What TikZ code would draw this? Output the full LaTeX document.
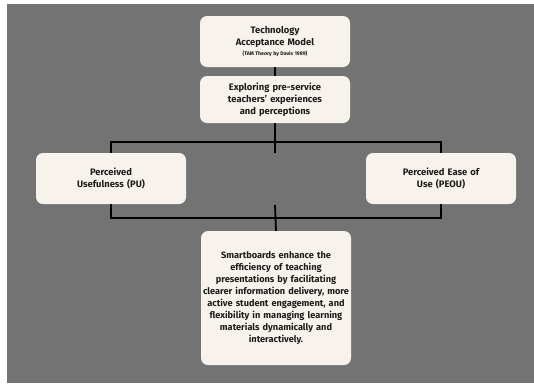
\documentclass[tikz,border=0pt]{standalone}
\usepackage{fontspec}
\setmainfont{Fira Sans}
\definecolor{slate}{HTML}{737373}
\definecolor{cream}{HTML}{F7F3EC}
\definecolor{ink}{HTML}{1C1C1C}
\usetikzlibrary{calc}

\begin{document}
\begin{tikzpicture}[x=1pt,y=-1pt,
	card/.style={fill=cream, rounded corners=7pt, align=center, text=ink,
		font=\bfseries\fontsize{9.4}{11.9}\selectfont, inner sep=1pt,
		minimum width=150pt, text width=148pt},
	wire/.style={draw=black, line width=1.8pt}]
	\useasboundingbox (0,0) rectangle (534,383);
	\fill[slate] (7,4) rectangle (534,383);
	% boxes
	\node[card, minimum height=51pt] (tam) at (275,41.5)
		{Technology\\Acceptance Model\\[-1.5pt]{\fontsize{5.2}{6}\selectfont\spaceskip=1.4pt(TAM Theory by Davis 1989)}};
	\node[card, minimum height=47pt] (explore) at (275,99.5)
		{Exploring pre-service\\teachers' experiences\\and perceptions};
	\node[card, minimum height=51pt] (pu) at (111,178.5)
		{Perceived\\Usefulness (PU)};
	\node[card, minimum height=51pt] (peou) at (441,178.5)
		{Perceived Ease of\\Use (PEOU)};
	\node[card, minimum height=134pt, font=\bfseries\fontsize{9.2}{12}\selectfont] (result) at (276,298)
		{Smartboards enhance the\\efficiency of teaching\\presentations by facilitating\\clearer information delivery, more\\active student engagement, and\\flexibility in managing learning\\materials dynamically and\\interactively.};
	% junctions
	\coordinate (topjoint) at (275,142);
	\coordinate (topstub) at (275,153);
	\coordinate (botjoint) at (275,218);
	\coordinate (botstub) at (275,205);
	% connectors
	\draw[wire] (tam.south) -- (explore.north);
	\draw[wire] (explore.south) -- (topstub);
	\draw[wire] (pu.north) |- (topjoint) -| (peou.north);
	\draw[wire] (pu.south) |- (botjoint) -| (peou.south);
	\draw[wire] (botstub) -- (result.north);
\end{tikzpicture}
\end{document}
